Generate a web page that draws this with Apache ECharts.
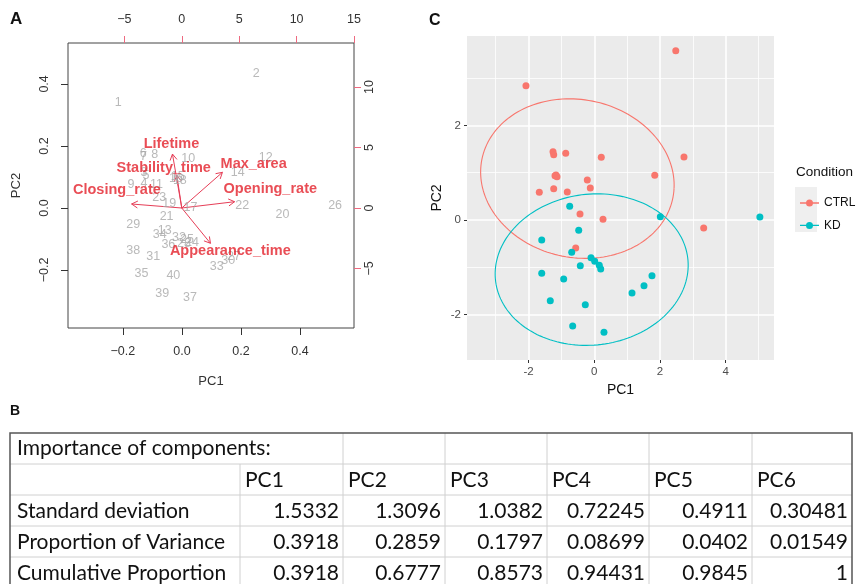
<!DOCTYPE html>
<html>
<head>
<meta charset="utf-8">
<script src="https://cdn.jsdelivr.net/npm/echarts@6/dist/echarts.min.js"></script>
<style>
html, body { margin: 0; padding: 0; background: #fff; }
#chart { width: 858px; height: 584px; }
</style>
</head>
<body>
<div id="chart"></div>
<script>
// ---- panel A : biplot ----
const sampleIds = ['1','2','3','4','5','6','7','8','9','10','11','12','13','14','15','16','17','18','19','20',
                   '21','22','23','24','25','26','27','28','29','30','31','32','33','34','35','36','37','38','39','40'];
const scorePC1 = [-0.216, 0.252, -0.129, -0.129, -0.122, -0.131, -0.130, -0.092, -0.173, 0.021,
                  -0.086, 0.284, -0.058, 0.189, -0.014, -0.020, 0.029, -0.007, -0.043, 0.341,
                  -0.052, 0.204, -0.077, 0.034, 0.017, 0.519, 0.176, 0.007, -0.165, 0.157,
                  -0.097, -0.010, 0.118, -0.075, -0.137, -0.046, 0.027, -0.165, -0.067, -0.029];
const scorePC2 = [0.341, 0.432, 0.113, 0.080, 0.106, 0.174, 0.166, 0.171, 0.074, 0.160,
                  0.076, 0.163, -0.073, 0.114, 0.100, 0.094, 0.002, 0.087, 0.015, -0.020,
                  -0.028, 0.007, 0.034, -0.113, -0.103, 0.007, -0.158, -0.116, -0.053, -0.168,
                  -0.155, -0.096, -0.189, -0.085, -0.211, -0.119, -0.289, -0.138, -0.275, -0.219];

const varNames = ['Lifetime', 'Stability_time', 'Max_area', 'Opening_rate', 'Closing_rate', 'Appearance_time'];
const loadPC1 = [-0.81, -0.43, 3.54, 4.60, -4.37, 2.50];
const loadPC2 = [4.46, 2.70, 2.95, 0.52, 0.33, -2.92];
const varLabelX = [-0.90, -1.57, 6.26, 7.71, -5.65, 4.23];
const varLabelY = [5.29, 3.31, 3.64, 1.55, 1.49, -3.55];

const bottomTicks = [-0.2, 0, 0.2, 0.4];
const leftTicks = [-0.2, 0, 0.2, 0.4];
const topTicks = [-5, 0, 5, 10, 15];
const rightTicks = [-5, 0, 5, 10];

// ---- panel C : PCA by condition ----
const ctrlPC1 = [2.48, -2.08, -1.257, -1.236, -0.87, 0.213, 2.73, -1.196, -1.135, -1.166, 1.84,
                 -0.213, -0.122, -1.674, -1.236, -0.822, -0.435, 0.265, 3.33, -0.566];
const ctrlPC2 = [3.58, 2.84, 1.446, 1.383, 1.41, 1.327, 1.333, 0.938, 0.917, 0.952, 0.946,
                 0.847, 0.677, 0.586, 0.663, 0.593, 0.127, 0.014, -0.169, -0.593];
const kdPC1 = [-0.749, 2.01, 5.04, -0.475, -1.60, -0.688, -0.10, 0.012, 0.152, 0.195,
               -0.426, -1.60, -0.932, 1.756, 1.513, 1.148, -1.34, -0.274, -0.658, 0.295];
const kdPC2 = [0.29, 0.07, 0.063, -0.219, -0.423, -0.684, -0.797, -0.875, -0.96, -1.037,
               -0.967, -1.128, -1.249, -1.178, -1.39, -1.545, -1.708, -1.792, -2.243, -2.377];
// ellipse: centre x, centre y, semi-axis a, semi-axis b, rotation (rad)
const ctrlEllipse = [-0.515, 0.876, 2.95, 1.68, -0.07];
const kdEllipse = [-0.08, -1.05, 2.94, 1.60, 0.045];
const conditions = ['CTRL', 'KD'];
const cMajorX = [-2, 0, 2, 4];
const cMinorX = [-3, -1, 1, 3, 5];
const cMajorY = [-2, 0, 2];
const cMinorY = [-1, 1, 3];

// ---- panel B : importance table ----
const tableTitle = 'Importance of components:';
const pcNames = ['PC1', 'PC2', 'PC3', 'PC4', 'PC5', 'PC6'];
const rowNames = ['Standard deviation', 'Proportion of Variance', 'Cumulative Proportion'];
const stdDev = ['1.5332', '1.3096', '1.0382', '0.72245', '0.4911', '0.30481'];
const propVar = ['0.3918', '0.2859', '0.1797', '0.08699', '0.0402', '0.01549'];
const cumProp = ['0.3918', '0.6777', '0.8573', '0.94431', '0.9845', '1'];

const chart = echarts.init(document.getElementById('chart'));
const red = '#E3202B';
const arrowRed = '#E63E57';
const tickRed = '#EE6A80';
const ctrlColor = '#F8766D';
const kdColor = '#00BFC4';
const rFont = '"Liberation Sans", Arial, sans-serif';
const minus = v => (v < 0 ? '\u2212' : '') + Math.abs(v);
const noLine = { show: false, onZero: false };

function renderArrow(params, api) {
    const p0 = api.coord([0, 0]);
    const p1 = api.coord([api.value(0), api.value(1)]);
    const ang = Math.atan2(p1[1] - p0[1], p1[0] - p0[0]);
    const L = 7, spread = Math.PI / 6;
    const h1 = [p1[0] - L * Math.cos(ang - spread), p1[1] - L * Math.sin(ang - spread)];
    const h2 = [p1[0] - L * Math.cos(ang + spread), p1[1] - L * Math.sin(ang + spread)];
    return {
        type: 'group',
        children: [
            { type: 'line', shape: { x1: p0[0], y1: p0[1], x2: p1[0], y2: p1[1] }, style: { stroke: arrowRed, lineWidth: 1 } },
            { type: 'polyline', shape: { points: [h1, p1, h2] }, style: { stroke: arrowRed, fill: null, lineWidth: 1 } }
        ]
    };
}

function renderEllipse(params, api) {
    const cx = api.value(0), cy = api.value(1), a = api.value(2), b = api.value(3), th = api.value(4);
    const pts = [];
    for (let i = 0; i <= 160; i++) {
        const t = i / 160 * 2 * Math.PI;
        pts.push(api.coord([
            cx + a * Math.cos(t) * Math.cos(th) - b * Math.sin(t) * Math.sin(th),
            cy + a * Math.cos(t) * Math.sin(th) + b * Math.sin(t) * Math.cos(th)
        ]));
    }
    return { type: 'polyline', shape: { points: pts }, style: { stroke: api.visual('color'), fill: null, lineWidth: 1.1 } };
}

// table drawn with graphic elements
const colX = [10, 240, 343, 445, 547, 649, 752, 852];
const tableTop = 433, rowH = 31;
const tFont = 'Lato, "Open Sans", sans-serif';
const tableGraphic = [];
for (let k = 1; k < 5; k++) {
    tableGraphic.push({ type: 'line', shape: { x1: colX[0], y1: tableTop + k * rowH, x2: colX[7], y2: tableTop + k * rowH },
        style: { stroke: '#D0D0D0', lineWidth: 1 } });
}
for (let c = 1; c < 7; c++) {
    const y1 = c === 1 ? tableTop + rowH : tableTop;
    tableGraphic.push({ type: 'line', shape: { x1: colX[c], y1: y1, x2: colX[c], y2: tableTop + 5 * rowH },
        style: { stroke: '#D0D0D0', lineWidth: 1 } });
}
tableGraphic.push({ type: 'rect', shape: { x: colX[0], y: tableTop, width: colX[7] - colX[0], height: 5 * rowH },
    style: { stroke: '#555', fill: null, lineWidth: 1.5 } });
function cellText(text, x, y, align) {
    return { type: 'text', x: x, y: y, style: { text: text, fontSize: 21, fontFamily: tFont, fill: '#111',
        align: align, verticalAlign: 'middle' } };
}
tableGraphic.push(cellText(tableTitle, colX[0] + 7, tableTop + rowH / 2, 'left'));
pcNames.forEach((n, c) => tableGraphic.push(cellText(n, colX[c + 1] + 5, tableTop + rowH * 1.5 + 1, 'left')));
[stdDev, propVar, cumProp].forEach((vals, r) => {
    const y = tableTop + rowH * (2.5 + r) + 1;
    tableGraphic.push(cellText(rowNames[r], colX[0] + 7, y, 'left'));
    vals.forEach((v, c) => tableGraphic.push(cellText(v, colX[c + 2] - 4, y, 'right')));
});

const option = {
    animation: false,
    backgroundColor: '#fff',
    textStyle: { fontFamily: rFont },
    title: [
        { text: 'A', left: 10, top: 11, padding: 0, textStyle: { fontSize: 17, fontWeight: 'bold', color: '#111', fontFamily: rFont } },
        { text: 'C', left: 429, top: 13, padding: 0, textStyle: { fontSize: 16, fontWeight: 'bold', color: '#111', fontFamily: rFont } },
        { text: 'B', left: 10, top: 404, padding: 0, textStyle: { fontSize: 14, fontWeight: 'bold', color: '#111', fontFamily: rFont } },
        { text: 'Condition', left: 796, top: 165, padding: 0, textStyle: { fontSize: 13.5, fontWeight: 'normal', color: '#111', fontFamily: rFont } }
    ],
    legend: {
        data: conditions,
        orient: 'vertical',
        left: 795,
        top: 188,
        itemWidth: 19,
        itemHeight: 7,
        itemGap: 2.4,
        icon: 'path://M0,2.8L19,2.8L19,4.2L0,4.2Z M13,3.5A3.5,3.5,0,1,1,6,3.5A3.5,3.5,0,1,1,13,3.5Z',
        textStyle: { fontSize: 12, color: '#111', lineHeight: 20, fontFamily: rFont }
    },
    graphic: [
        { type: 'rect', z: 0, shape: { x: 795, y: 187, width: 22, height: 45 }, style: { fill: '#EFEFEF' } }
    ].concat(tableGraphic),
    grid: [
        { left: 68, top: 43, width: 286, height: 285, show: true, borderColor: '#444', borderWidth: 1, backgroundColor: 'transparent' },
        { left: 467, top: 36, width: 307, height: 324, show: true, borderWidth: 0, backgroundColor: '#EBEBEB' }
    ],
    xAxis: [
        {
            gridIndex: 0, type: 'value', position: 'bottom', min: -0.386, max: 0.583,
            axisLine: noLine, splitLine: { show: false },
            axisTick: { length: 7, lineStyle: { color: '#333' }, customValues: bottomTicks },
            axisLabel: { customValues: bottomTicks, margin: 17, fontSize: 12.5, color: '#333',
                formatter: v => (v < 0 ? '\u2212' : '') + Math.abs(v).toFixed(1) },
            name: 'PC1', nameLocation: 'middle', nameGap: 47, nameTextStyle: { fontSize: 13, color: '#333' }
        },
        {
            gridIndex: 0, type: 'value', position: 'top', min: -9.91, max: 15,
            axisLine: noLine, splitLine: { show: false },
            axisTick: { length: 7, lineStyle: { color: tickRed }, customValues: topTicks },
            axisLabel: { customValues: topTicks, margin: 17, fontSize: 12.5, color: '#333', formatter: minus }
        },
        {
            gridIndex: 1, type: 'value', position: 'bottom', min: -3.875, max: 5.47,
            axisLine: noLine,
            axisTick: { length: 3, lineStyle: { color: '#333' }, customValues: cMajorX },
            axisLabel: { customValues: cMajorX, margin: 6, fontSize: 11.5, color: '#4D4D4D' },
            splitLine: { show: true, lineStyle: { color: '#fff', width: 1.6 } },
            name: 'PC1', nameLocation: 'middle', nameGap: 19, nameTextStyle: { fontSize: 14, color: '#111' }
        },
        {
            gridIndex: 1, type: 'value', position: 'bottom', min: -3.875, max: 5.47,
            axisLine: noLine, axisLabel: { show: false },
            axisTick: { show: false, customValues: cMinorX },
            splitLine: { show: true, lineStyle: { color: '#fff', width: 0.8 } }
        }
    ],
    yAxis: [
        {
            gridIndex: 0, type: 'value', position: 'left', min: -0.387, max: 0.532,
            axisLine: noLine, splitLine: { show: false },
            axisTick: { length: 7, lineStyle: { color: '#333' }, customValues: leftTicks },
            axisLabel: { customValues: leftTicks, margin: 17, rotate: 90, fontSize: 12.5, color: '#333',
                formatter: v => (v < 0 ? '\u2212' : '') + Math.abs(v).toFixed(1) },
            name: 'PC2', nameLocation: 'middle', nameGap: 45, nameTextStyle: { fontSize: 13, color: '#333' }
        },
        {
            gridIndex: 0, type: 'value', position: 'right', min: -9.92, max: 13.64,
            axisLine: noLine, splitLine: { show: false },
            axisTick: { length: 7, lineStyle: { color: tickRed }, customValues: rightTicks },
            axisLabel: { customValues: rightTicks, margin: 9, rotate: 90, fontSize: 12.5, color: '#333', formatter: minus }
        },
        {
            gridIndex: 1, type: 'value', position: 'left', min: -2.963, max: 3.894,
            axisLine: noLine,
            axisTick: { length: 3, lineStyle: { color: '#333' }, customValues: cMajorY },
            axisLabel: { customValues: cMajorY, margin: 6, fontSize: 11.5, color: '#4D4D4D' },
            splitLine: { show: true, lineStyle: { color: '#fff', width: 1.6 } },
            name: 'PC2', nameLocation: 'middle', nameGap: 23, nameTextStyle: { fontSize: 14, color: '#111' }
        },
        {
            gridIndex: 1, type: 'value', position: 'left', min: -2.963, max: 3.894,
            axisLine: noLine, axisLabel: { show: false },
            axisTick: { show: false, customValues: cMinorY },
            splitLine: { show: true, lineStyle: { color: '#fff', width: 0.8 } }
        }
    ],
    series: [
        {
            name: 'samples', type: 'scatter', xAxisIndex: 0, yAxisIndex: 0,
            symbolSize: 0, silent: true,
            data: sampleIds.map((id, i) => [scorePC1[i], scorePC2[i], id]),
            label: { show: true, position: 'inside', formatter: p => p.value[2], color: '#A8A8A8', fontSize: 12.5 }
        },
        {
            name: 'loadings', type: 'custom', xAxisIndex: 1, yAxisIndex: 1,
            renderItem: renderArrow, encode: { x: 0, y: 1 }, silent: true,
            data: varNames.map((n, i) => [loadPC1[i], loadPC2[i]])
        },
        {
            name: 'variables', type: 'scatter', xAxisIndex: 1, yAxisIndex: 1,
            symbolSize: 0, silent: true, z: 5,
            data: varNames.map((n, i) => [varLabelX[i], varLabelY[i], n]),
            label: { show: true, position: 'inside', formatter: p => p.value[2], color: red, fontSize: 14.5, fontWeight: 'bold' }
        },
        {
            name: 'CTRL', type: 'scatter', xAxisIndex: 2, yAxisIndex: 2, symbolSize: 7,
            itemStyle: { color: ctrlColor, opacity: 1 },
            data: ctrlPC1.map((x, i) => [x, ctrlPC2[i]])
        },
        {
            name: 'KD', type: 'scatter', xAxisIndex: 2, yAxisIndex: 2, symbolSize: 7,
            itemStyle: { color: kdColor, opacity: 1 },
            data: kdPC1.map((x, i) => [x, kdPC2[i]])
        },
        {
            name: 'CTRL', type: 'custom', xAxisIndex: 2, yAxisIndex: 2, renderItem: renderEllipse,
            encode: { x: 0, y: 1 }, itemStyle: { color: ctrlColor }, silent: true, data: [ctrlEllipse]
        },
        {
            name: 'KD', type: 'custom', xAxisIndex: 2, yAxisIndex: 2, renderItem: renderEllipse,
            encode: { x: 0, y: 1 }, itemStyle: { color: kdColor }, silent: true, data: [kdEllipse]
        }
    ]
};

chart.setOption(option);
window.addEventListener('resize', function () { chart.resize(); });
</script>
</body>
</html>
